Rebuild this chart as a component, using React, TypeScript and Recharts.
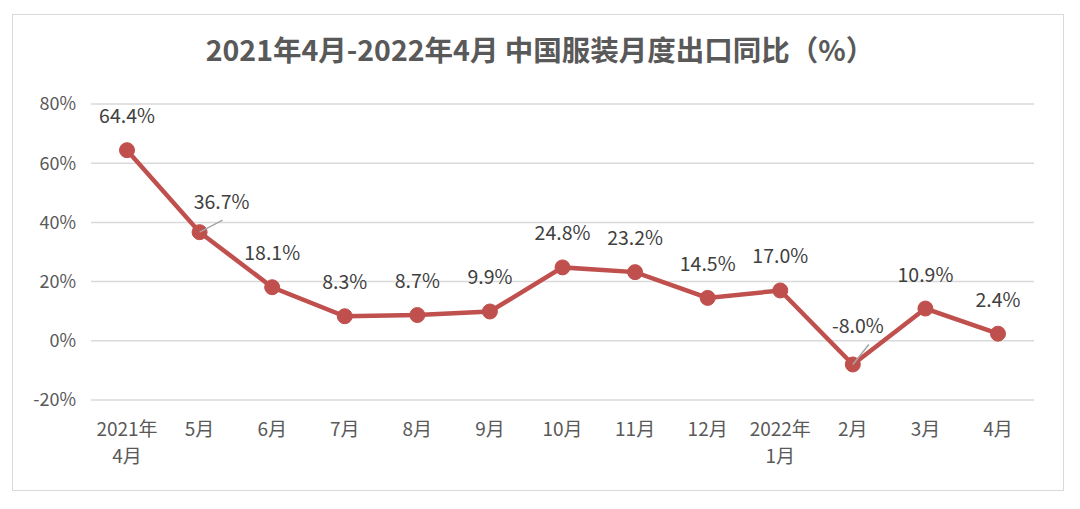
import { CartesianGrid, LabelList, Line, LineChart, XAxis, YAxis } from "recharts";

const months = ["2021年\n4月", "5月", "6月", "7月", "8月", "9月", "10月", "11月", "12月", "2022年\n1月", "2月", "3月", "4月"];
const yoy = [64.4, 36.7, 18.1, 8.3, 8.7, 9.9, 24.8, 23.2, 14.5, 17.0, -8.0, 10.9, 2.4];
const yTicks = [-20, 0, 20, 40, 60, 80];

// label nudges relative to the default spot above each point
const labelShift: Record<number, { dx: number; dy: number; leader?: [number, number] }> = {
  1: { dx: 22, dy: 4, leader: [23, -12] },
  10: { dx: 5, dy: -4, leader: [16, -20] },
};

const data = months.map((m, i) => ({ month: m, value: yoy[i] }));

const FONT = '"Noto Sans CJK SC", "Noto Sans", sans-serif';

function MonthTick({ x, y, payload }: any) {
  const lines = String(payload.value).split("\n");
  return (
    <g transform={`translate(${x},${y})`}>
      {lines.map((t, i) => (
        <text key={i} x={0} y={i * 27} dy={28} textAnchor="middle" fill="#595959" fontSize={19} fontFamily={FONT}>
          {t}
        </text>
      ))}
    </g>
  );
}

function ValueLabel({ x, y, value, index }: any) {
  const s = labelShift[index] || { dx: 0, dy: 0 };
  return (
    <g>
      {s.leader && <line x1={x} y1={y} x2={x + s.leader[0]} y2={y + s.leader[1]} stroke="#a6a6a6" strokeWidth={1.5} />}
      <text x={x + s.dx} y={y - 27 + s.dy} textAnchor="middle" fill="#404040" fontSize={19.5} fontFamily={FONT}>
        {Number(value).toFixed(1)}%
      </text>
    </g>
  );
}

export default function App() {
  return (
    <div style={{ position: "absolute", left: 0, top: 0, width: 1080, height: 509, background: "#fff" }}>
      <div style={{ position: "absolute", left: 12, top: 14, width: 1050, height: 475, border: "1px solid #d9d9d9" }} />
      <div
        style={{
          position: "absolute",
          left: 0,
          width: 1080,
          top: 28,
          textAlign: "center",
          fontFamily: FONT,
          fontSize: 28.5,
          fontWeight: 700,
          color: "#595959",
          paddingRight: 8,
          whiteSpace: "nowrap",
        }}
      >
        2021年4月-2022年4月 中国服装月度出口同比（%）
      </div>
      <LineChart width={1080} height={509} data={data} margin={{ top: 104, right: 46, bottom: 49, left: 31 }} style={{ position: "absolute", left: 0, top: 0 }}>
        <CartesianGrid vertical={false} stroke="#d9d9d9" strokeWidth={1.5} />
        <XAxis
          dataKey="month"
          axisLine={false}
          tickLine={false}
          interval={0}
          height={60}
          padding={{ left: 36, right: 36 }}
          tick={<MonthTick />}
        />
        <YAxis
          domain={[-20, 80]}
          ticks={yTicks}
          width={60}
          axisLine={false}
          tickLine={false}
          tickSize={0}
          tickMargin={15}
          tickFormatter={(v) => `${v}%`}
          tick={{ fill: "#595959", fontSize: 18, fontFamily: FONT }}
        />
        <Line
          dataKey="value"
          stroke="#c0504d"
          strokeWidth={4.5}
          dot={{ r: 7.5, fill: "#c0504d", stroke: "#c0504d", strokeWidth: 1 }}
          isAnimationActive={false}
        >
          <LabelList dataKey="value" content={<ValueLabel />} />
        </Line>
      </LineChart>
    </div>
  );
}
